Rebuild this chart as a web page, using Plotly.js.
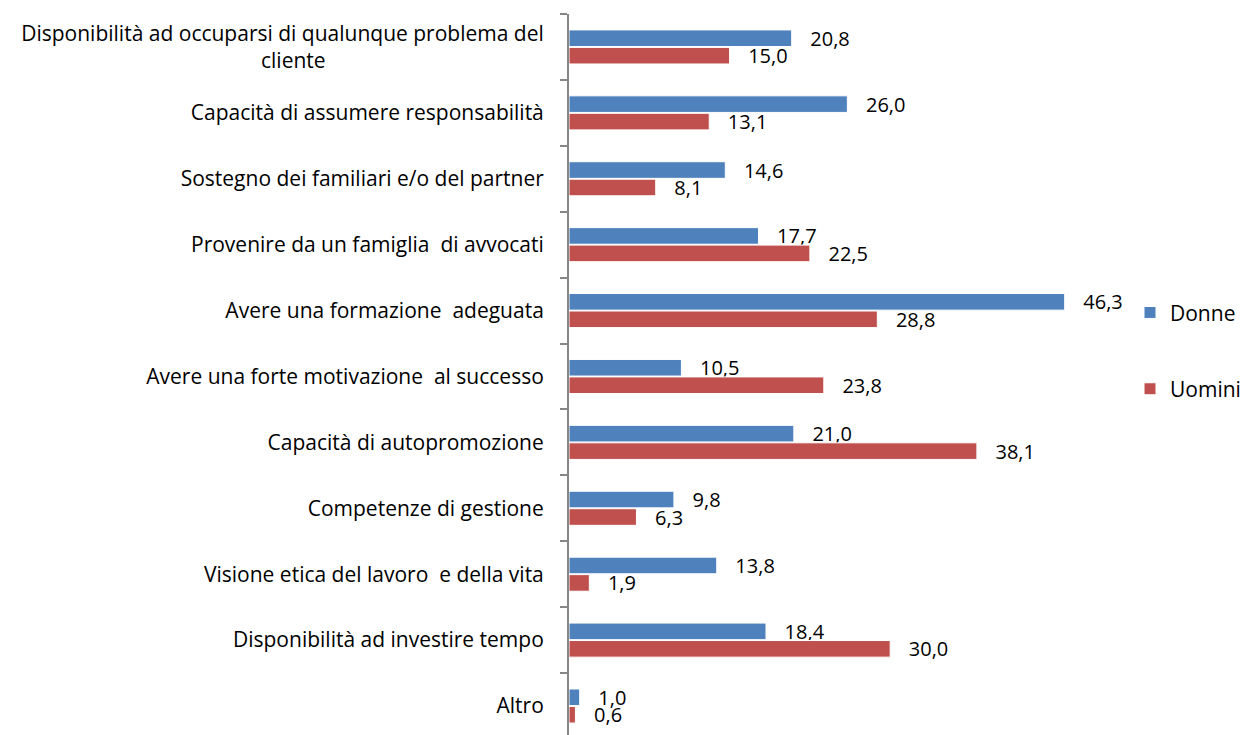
<!DOCTYPE html>
<html>
<head>
<meta charset="utf-8">
<script src="https://cdn.plot.ly/plotly-3.0.1.min.js"></script>
<style>
  body { margin: 0; background: #fff; }
  #chart { width: 1248px; height: 735px; }
</style>
</head>
<body>
<div id="chart"></div>
<script>
let categories = [
    "Disponibilità ad occuparsi di qualunque problema del<br>cliente",
    "Capacità di assumere responsabilità",
    "Sostegno dei familiari e/o del partner",
    "Provenire da un famiglia  di avvocati",
    "Avere una formazione  adeguata",
    "Avere una forte motivazione  al successo",
    "Capacità di autopromozione",
    "Competenze di gestione",
    "Visione etica del lavoro  e della vita",
    "Disponibilità ad investire tempo",
    "Altro"
];
let donne = [20.8, 26.0, 14.6, 17.7, 46.3, 10.5, 21.0, 9.8, 13.8, 18.4, 1.0];
let uomini = [15.0, 13.1, 8.1, 22.5, 28.8, 23.8, 38.1, 6.3, 1.9, 30.0, 0.6];

// second line of the first label is centred in the original
categories[0] = categories[0] + '\u00a0'.repeat(40);

function label(v) {
    return '\u00a0\u00a0\u00a0' + v.toFixed(1).replace('.', ',');
}

let first = {
    y: categories,
    x: donne,
    type: 'bar',
    orientation: 'h',
    name: 'Donne',
    legendgroup: 'a',
    marker: {color: '#4F81BD', line: {color: '#ffffff', width: 1}},
    text: donne.map(label),
    textposition: 'outside',
    constraintext: 'none',
    cliponaxis: false,
    textfont: {size: 20, color: '#000000'}
};

let second = {
    y: categories,
    x: uomini,
    type: 'bar',
    orientation: 'h',
    name: 'Uomini',
    legendgroup: 'b',
    marker: {color: '#C0504D', line: {color: '#ffffff', width: 1}},
    text: uomini.map(label),
    textposition: 'outside',
    constraintext: 'none',
    cliponaxis: false,
    textfont: {size: 20, color: '#000000'}
};

let layout = {
    width: 1248,
    height: 735,
    margin: {l: 569, r: 118, t: 14, b: 0, autoexpand: false},
    paper_bgcolor: '#ffffff',
    plot_bgcolor: '#ffffff',
    font: {family: '"Open Sans", sans-serif', size: 21, color: '#000000'},
    barmode: 'group',
    bargap: 0.47,
    bargroupgap: 0.05,
    showlegend: true,
    legend: {
        x: 1.0, xanchor: 'left',
        y: 0.614, yanchor: 'top',
        traceorder: 'grouped',
        tracegroupgap: 46,
        itemwidth: 30,
        font: {size: 21}
    },
    xaxis: {
        range: [0, 52.4],
        visible: false,
        showgrid: false,
        zeroline: false
    },
    yaxis: {
        type: 'category',
        categoryorder: 'array',
        categoryarray: categories,
        range: [10.44, -0.5],
        showline: true,
        linecolor: '#868686',
        linewidth: 2,
        ticks: 'outside',
        tickson: 'boundaries',
        ticklen: 7,
        tickcolor: '#868686',
        tickwidth: 1.5,
        ticklabelstandoff: 19,
        showgrid: false,
        tickfont: {size: 21}
    }
};

Plotly.newPlot('chart', [first, second], layout, {displayModeBar: false});
</script>
</body>
</html>
